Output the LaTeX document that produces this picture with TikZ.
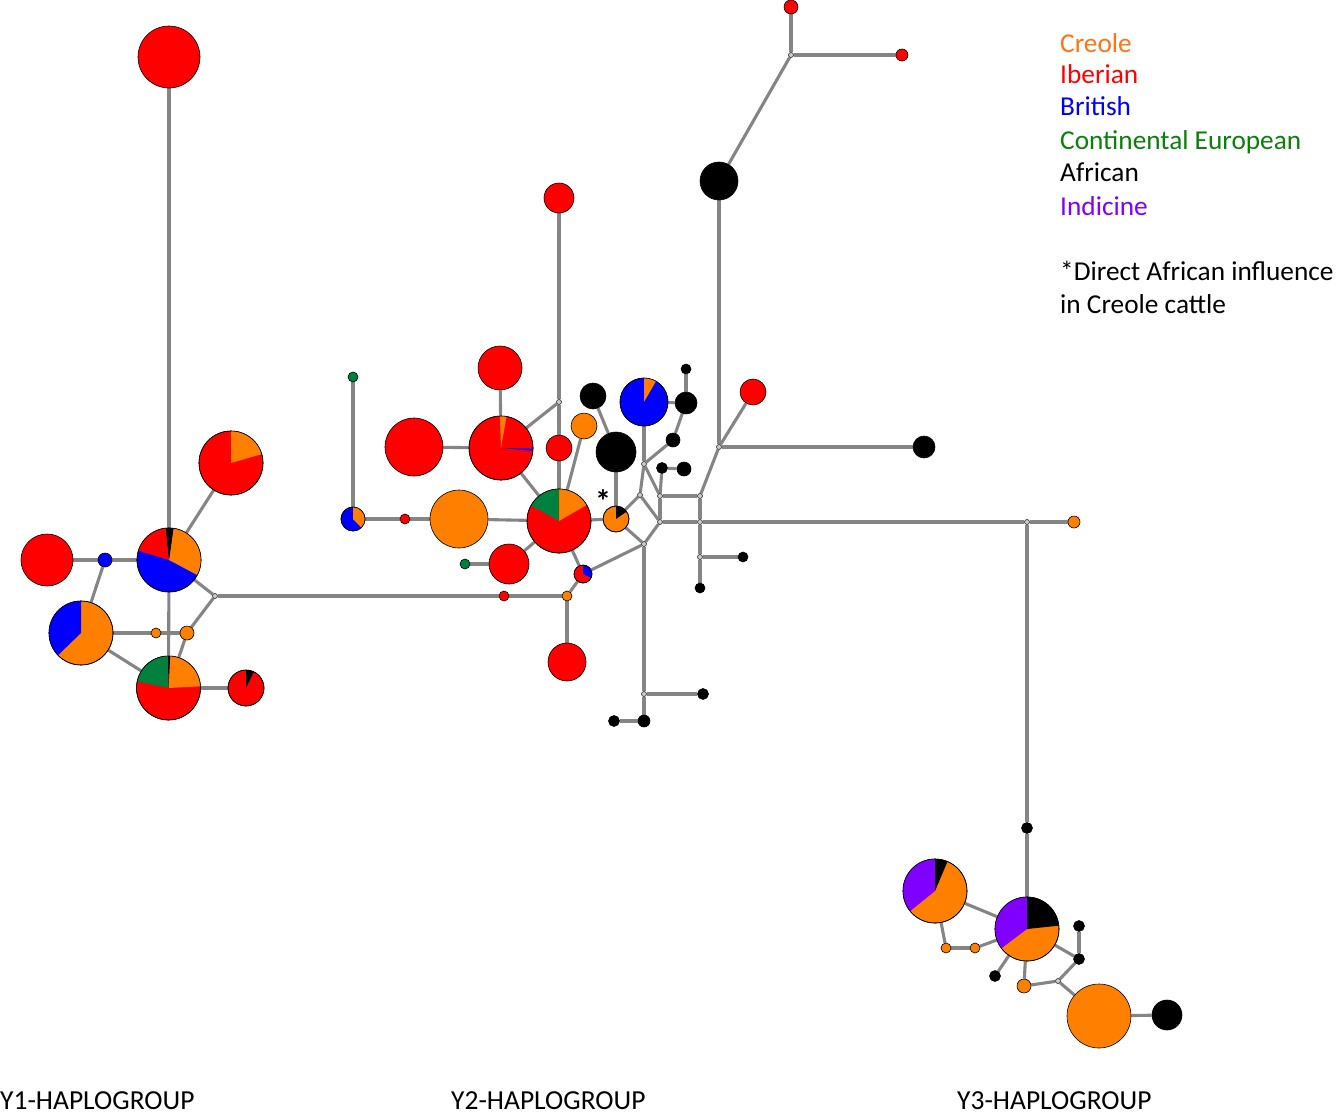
\documentclass[tikz,border=0pt]{standalone}
\usepackage{fontspec}
\setmainfont{Carlito}
\pgfdeclarelayer{bg}
\pgfsetlayers{bg,main}
\definecolor{cre}{HTML}{FF8000}
\definecolor{creL}{HTML}{FF7414}
\definecolor{ibe}{HTML}{FF0000}
\definecolor{bri}{HTML}{0000FF}
\definecolor{con}{HTML}{00803F}
\definecolor{conL}{HTML}{0A800A}
\definecolor{ind}{HTML}{8000FF}
\definecolor{edgeg}{HTML}{858585}
\tikzset{
  hap/.style={circle,draw=black,line width=0.6pt,inner sep=0pt,minimum size=#1*2pt},
  jn/.style={circle,draw=black!85,fill=gray!40,line width=0.6pt,inner sep=0pt,minimum size=5pt},
  lnk/.style={draw=edgeg,line width=3.1pt},
  leg/.style={anchor=base west,font=\fontsize{27.3}{27}\selectfont,inner sep=0pt},
  hlab/.style={anchor=base west,font=\fontsize{27.5}{27}\selectfont,inner sep=0pt},
}
\newcommand\hn[5]{\node[hap=#4,fill=#5] (#1) at (#2,-#3) {};}
\newcommand\jnode[3]{\node[jn] (#1) at (#2,-#3) {};}
\newcommand\wg[5]{\fill[#5] (#1.center) -- ++(#3:#2pt) arc[start angle=#3,end angle=#4,radius=#2pt] -- cycle;}
\newcommand\olc[2]{\draw[line width=0.6pt] (#1.center) circle[radius=#2pt];}
\newcommand\lk[2]{\begin{pgfonlayer}{bg}\draw[lnk] (#1) -- (#2);\end{pgfonlayer}}
\begin{document}
\begin{tikzpicture}[x=1pt,y=1pt]
\useasboundingbox (0,0) rectangle (1342,-1117);
% ---------------- Y1 ----------------
\hn{A}{169}{57}{31}{ibe}
\hn{B}{169}{560}{32}{bri}
\wg{B}{32}{-28}{82}{cre}\wg{B}{32}{82}{96}{black}\wg{B}{32}{96}{163}{ibe}\olc{B}{32}
\hn{C}{231}{463}{32}{ibe}
\wg{C}{32}{16}{90}{cre}\olc{C}{32}
\hn{D}{47}{560}{26}{ibe}
\hn{E}{105}{560}{7}{bri}
\hn{F}{81}{633}{32}{cre}
\wg{F}{32}{90}{224}{bri}\olc{F}{32}
\hn{G}{156}{633}{5}{cre}
\hn{H}{187}{633}{7}{cre}
\jnode{J1}{215}{596}
\hn{K}{168.5}{688}{32}{ibe}
\wg{K}{32}{3}{87}{cre}\wg{K}{32}{87}{91}{black}\wg{K}{32}{91}{168}{con}\olc{K}{32}
\hn{L}{246}{688}{18}{ibe}
\wg{L}{18}{64}{90}{black}\olc{L}{18}
% ---------------- Y2 ----------------
\hn{M}{500}{368}{22}{ibe}
\hn{N}{501}{448}{32}{ibe}
\wg{N}{32}{80}{92}{cre}\wg{N}{32}{-5}{-1}{bri}\olc{N}{32}
\hn{O}{414}{447}{29}{ibe}
\hn{P}{353}{377}{5}{con}
\hn{Q}{353}{519}{12}{bri}
\wg{Q}{12}{-46}{90}{cre}\olc{Q}{12}
\hn{R}{405}{519}{5}{ibe}
\hn{S}{459}{519}{29}{cre}
\hn{T}{559}{521}{32}{ibe}
\wg{T}{32}{30}{90}{cre}\wg{T}{32}{90}{151}{con}\olc{T}{32}
\hn{U}{559}{448}{13}{ibe}
\hn{V}{584}{426}{13}{cre}
\hn{W}{593}{396}{13}{black}
\hn{X}{616}{452}{20}{black}
\hn{Y}{616}{519}{13}{cre}
\wg{Y}{13}{35}{90}{black}\olc{Y}{13}
\node[font=\fontsize{32}{32}\selectfont\bfseries,inner sep=0pt] (star) at (603,-501) {*};
\hn{Z}{509}{564}{20}{ibe}
\hn{AA}{465}{564}{5}{con}
\hn{AB}{583}{574}{9}{ibe}
\wg{AB}{9}{-25}{88}{bri}\olc{AB}{9}
\hn{AC}{504}{596}{5}{ibe}
\hn{AD}{567}{596}{5}{cre}
\hn{AE}{559}{198}{15}{ibe}
\hn{AF}{567}{662}{19}{ibe}
\jnode{JT}{559}{402}
\hn{BA}{644}{402}{24}{bri}
\wg{BA}{24}{60}{90}{cre}\olc{BA}{24}
\hn{BB}{686}{403}{11}{black}
\hn{BC}{686}{369}{5}{black}
\hn{BD}{673}{440}{7}{black}
\hn{BE}{662}{468}{5.5}{black}
\hn{BF}{684}{469}{7}{black}
\jnode{Ja}{644}{464}
\jnode{Jb}{640}{495}
\jnode{Jc}{660}{496}
\jnode{Jd}{700}{496}
\jnode{Je}{660}{522}
\jnode{Jf}{700}{522}
\jnode{Jg}{644}{544}
\jnode{Jh}{700}{557}
\jnode{Ji}{719}{447}
\hn{BG}{743}{557}{5}{black}
\hn{BH}{700}{588}{5}{black}
\jnode{Jk}{644}{694}
\hn{BI}{703}{694}{5.5}{black}
\hn{BJ}{644}{721}{6}{black}
\hn{BK}{614}{721}{5.5}{black}
\hn{RR}{753}{392}{13}{ibe}
\hn{BL}{924}{447}{11}{black}
\hn{BM}{719}{181}{19}{black}
\jnode{Jt}{791}{55}
\hn{RT}{791}{7}{7}{ibe}
\hn{RS}{902}{55}{6}{ibe}
\jnode{Jz}{1027}{522}
\hn{OZ}{1074}{522}{6}{cre}
% ---------------- Y3 ----------------
\hn{CA}{1027}{828}{5.5}{black}
\hn{CB}{1027}{929}{32}{cre}
\wg{CB}{32}{6}{90}{black}\wg{CB}{32}{90}{217}{ind}\olc{CB}{32}
\hn{CC}{935}{891}{32}{cre}
\wg{CC}{32}{67}{90}{black}\wg{CC}{32}{90}{219}{ind}\olc{CC}{32}
\hn{CD}{946}{948}{5}{cre}
\hn{CE}{975}{948}{5}{cre}
\hn{CF}{995}{976}{5.5}{black}
\hn{CG}{1024}{986}{7}{cre}
\jnode{CH}{1058}{981}
\hn{CI}{1079}{926}{5.5}{black}
\hn{CJ}{1079}{959}{5.5}{black}
\hn{CK}{1099}{1016}{32}{cre}
\hn{CL}{1167}{1015}{15}{black}
% ---------------- links ----------------
\lk{A}{B}\lk{B}{C}\lk{D}{E}\lk{E}{B}\lk{E}{F}\lk{B}{J1}\lk{J1}{H}
\lk{F}{G}\lk{G}{H}\lk{B}{K}\lk{H}{K}\lk{F}{K}\lk{K}{L}
\lk{J1}{AC}\lk{AC}{AD}
\lk{M}{N}\lk{O}{N}\lk{N}{JT}\lk{N}{T}\lk{AE}{JT}\lk{JT}{U}\lk{U}{T}
\lk{P}{Q}\lk{Q}{R}\lk{R}{S}\lk{S}{T}\lk{T}{Y}\lk{V}{T}\lk{W}{X}\lk{X}{Y}
\lk{Z}{T}\lk{AA}{Z}\lk{T}{AB}\lk{AB}{AD}\lk{AD}{AF}\lk{AB}{Jg}\lk{Y}{Jg}\lk{Y}{Jb}
\lk{Jb}{Ja}\lk{Ja}{BA}\lk{Ja}{BD}\lk{BD}{BB}\lk{BB}{BC}\lk{BA}{BB}\lk{Ja}{Jc}
\lk{BE}{Jc}\lk{BE}{BF}\lk{Jc}{Jd}\lk{Jc}{Je}\lk{Jb}{Je}\lk{Je}{Jg}\lk{Je}{Jf}
\lk{Jd}{Jf}\lk{Jf}{Jh}\lk{Jh}{BH}\lk{Jh}{BG}\lk{Jf}{Jz}\lk{Jz}{OZ}
\lk{Jg}{Jk}\lk{Jk}{BI}\lk{Jk}{BJ}\lk{BJ}{BK}
\lk{Jd}{Ji}\lk{Ji}{BL}\lk{Ji}{RR}\lk{Ji}{BM}\lk{BM}{Jt}\lk{Jt}{RT}\lk{Jt}{RS}
\lk{Jz}{CA}\lk{CA}{CB}\lk{CC}{CB}\lk{CC}{CD}\lk{CD}{CE}\lk{CE}{CB}\lk{CB}{CF}
\lk{CB}{CG}\lk{CB}{CJ}\lk{CI}{CJ}\lk{CJ}{CH}\lk{CG}{CH}\lk{CH}{CK}\lk{CK}{CL}
% ---------------- legend ----------------
\node[leg,text=creL] (l1) at (1060,-52) {Creole};
\node[leg,text=ibe] (l2) at (1060,-83.5) {Iberian};
\node[leg,text=bri] (l3) at (1060,-115) {British};
\node[leg,text=conL] (l4) at (1060,-149.5) {Continental European};
\node[leg,text=black] (l5) at (1060,-181.5) {African};
\node[leg,text=ind] (l6) at (1060,-215) {Indicine};
\node[leg,text=black] (l7) at (1060,-280) {*Direct African influence};
\node[leg,text=black] (l8) at (1060,-313.5) {in Creole cattle};
% ---------------- group labels ----------------
\node[hlab] (g1) at (0,-1109.5) {Y1-HAPLOGROUP};
\node[hlab] (g2) at (451,-1109.5) {Y2-HAPLOGROUP};
\node[hlab] (g3) at (957,-1109.5) {Y3-HAPLOGROUP};
\end{tikzpicture}
\end{document}
